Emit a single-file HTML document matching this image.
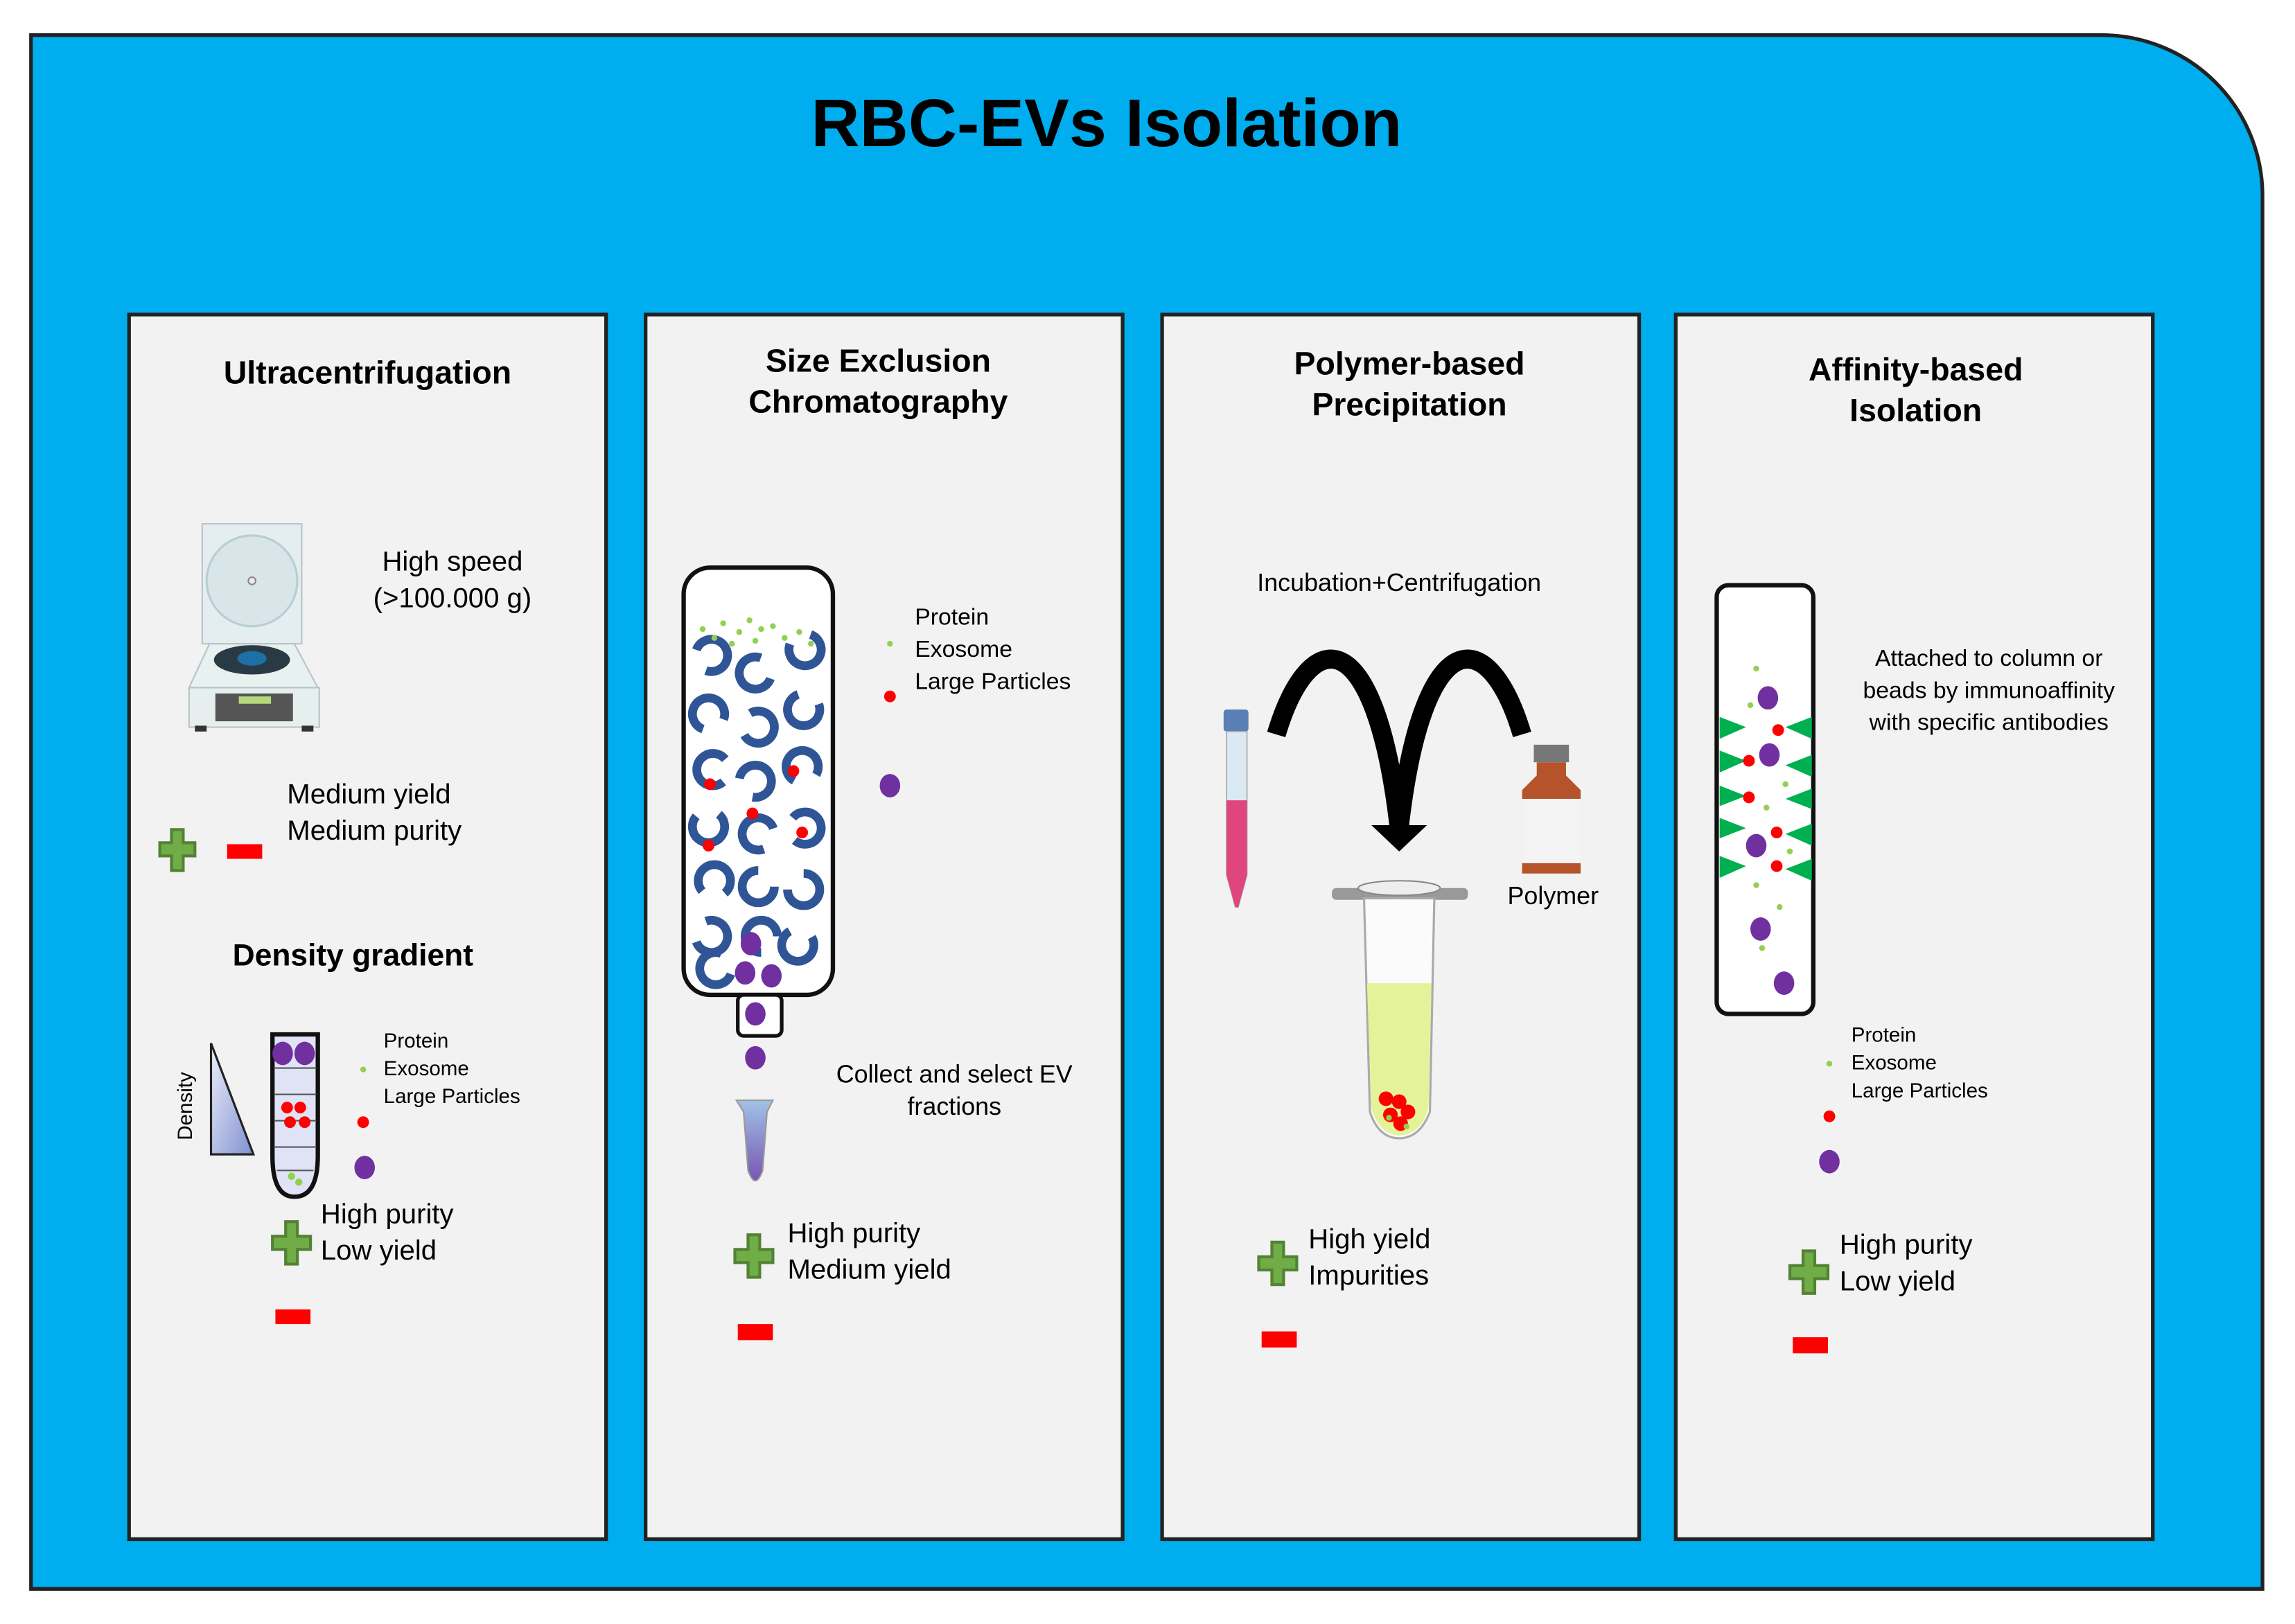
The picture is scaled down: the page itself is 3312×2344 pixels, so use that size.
<!DOCTYPE html>
<html><head><meta charset="utf-8"><style>html,body{margin:0;padding:0;background:#fff}svg{display:block}text{font-family:"Liberation Sans",Arial,sans-serif}</style></head>
<body>
<svg width="3312" height="2344" viewBox="0 0 1568 1110" xmlns="http://www.w3.org/2000/svg">
<defs>
<linearGradient id="dg" x1="0" y1="0" x2="1" y2="1"><stop offset="0" stop-color="#eef0fb"/><stop offset="1" stop-color="#7f8fd0"/></linearGradient>
<linearGradient id="tb" x1="0" y1="0" x2="0" y2="1"><stop offset="0" stop-color="#9fc3e8"/><stop offset="1" stop-color="#7a55b0"/></linearGradient>
</defs>
<rect width="1568" height="1110" fill="#fff"/>
<path d="M21 24 H1436 A110 110 0 0 1 1546 134 V1086 H21 Z" fill="#00aeef" stroke="#222" stroke-width="2.5"/>
<text x="756" y="100" font-size="46" font-weight="bold" text-anchor="middle">RBC-EVs Isolation</text>
<g fill="#f2f2f2" stroke="#222" stroke-width="2.5">
<rect x="88" y="215" width="326" height="837"/>
<rect x="441" y="215" width="326" height="837"/>
<rect x="794" y="215" width="326" height="837"/>
<rect x="1145" y="215" width="326" height="837"/>
</g>
<g font-weight="bold" font-size="22" text-anchor="middle">
<text x="251" y="262">Ultracentrifugation</text>
<text x="600" y="254">Size Exclusion</text><text x="600" y="282">Chromatography</text>
<text x="963" y="256">Polymer-based</text><text x="963" y="284">Precipitation</text>
<text x="1309" y="260">Affinity-based</text><text x="1309" y="288">Isolation</text>
<text x="241" y="660" font-size="21">Density gradient</text>
</g>
<!-- Panel 1 -->
<g>
<rect x="138" y="358" width="68" height="82" fill="#e4eef0" stroke="#b8c4c6"/>
<circle cx="172" cy="397" r="31" fill="#d8e6ea" stroke="#b9cdd4" stroke-width="1.5"/>
<circle cx="172" cy="397" r="2.5" fill="#eee" stroke="#888"/>
<path d="M143 440 H201 L217 470 H129 Z" fill="#e8f0f0" stroke="#b8c4c6"/>
<ellipse cx="172" cy="451" rx="26" ry="10" fill="#2a3a44"/>
<ellipse cx="172" cy="450" rx="10" ry="5" fill="#1d6fa8"/>
<rect x="129" y="470" width="89" height="27" fill="#e6eeee" stroke="#b8c4c6"/>
<rect x="147" y="474" width="53" height="19" fill="#555"/>
<rect x="163" y="476" width="22" height="5" fill="#b6d87c"/>
<rect x="133" y="496" width="8" height="4" fill="#333"/><rect x="206" y="496" width="8" height="4" fill="#333"/>
</g>
<g font-size="19" text-anchor="middle"><text x="309" y="390">High speed</text><text x="309" y="415">(&gt;100.000 g)</text></g>
<g font-size="19"><text x="196" y="549">Medium yield</text><text x="196" y="574">Medium purity</text></g>
<path d="M117 567 h8 v9 h8 v9 h-8 v10 h-8 v-10 h-8 v-9 h8 z" fill="#70ad47" stroke="#548235" stroke-width="2"/>
<rect x="155" y="577" width="24" height="10" fill="#f00"/>
<path d="M144 713 V789 H173 Z" fill="url(#dg)" stroke="#222" stroke-width="1.5"/>
<text x="131" y="756" font-size="14" text-anchor="middle" transform="rotate(-90 131 756)">Density</text>
<path d="M186 707 H217 V790 Q217 818 201 818 Q186 818 186 790 Z" fill="#dfe3f5" stroke="#111" stroke-width="3"/>
<g stroke="#555" stroke-width="1"><line x1="187" y1="730" x2="216" y2="730"/><line x1="187" y1="748" x2="216" y2="748"/><line x1="187" y1="766" x2="216" y2="766"/><line x1="187" y1="784" x2="216" y2="784"/><line x1="189" y1="800" x2="214" y2="800"/></g>
<g fill="#7030a0"><ellipse cx="193" cy="720" rx="7" ry="8"/><ellipse cx="208" cy="720" rx="7" ry="8"/></g>
<g fill="#f00"><circle cx="196" cy="757" r="4"/><circle cx="205" cy="757" r="4"/><circle cx="198" cy="767" r="4"/><circle cx="208" cy="767" r="4"/></g>
<g fill="#92d050"><circle cx="199" cy="804" r="2.5"/><circle cx="204" cy="808" r="2.5"/></g>
<g font-size="14"><text x="262" y="716">Protein</text><text x="262" y="735">Exosome</text><text x="262" y="754">Large Particles</text></g>
<circle cx="248" cy="731" r="2" fill="#92d050"/><circle cx="248" cy="767" r="4" fill="#f00"/><ellipse cx="249" cy="798" rx="7" ry="8" fill="#7030a0"/>
<g font-size="19"><text x="219" y="836">High purity</text><text x="219" y="861">Low yield</text></g>
<path d="M195 835 h8 v10 h9 v9 h-9 v10 h-8 v-10 h-9 v-9 h9 z" fill="#70ad47" stroke="#548235" stroke-width="2"/>
<rect x="188" y="895" width="24" height="10" fill="#f00"/>
<!-- Panel 2 -->
<rect x="467" y="388" width="102" height="292" rx="18" fill="#fff" stroke="#111" stroke-width="3"/>
<rect x="504" y="680" width="30" height="28" rx="4" fill="#fff" stroke="#111" stroke-width="2.5"/>
<g fill="none" stroke="#2f5597" stroke-width="6">
<path d="M-11 0 A11 11 0 1 1 0 11" transform="translate(486,448) rotate(20)"/>
<path d="M-11 0 A11 11 0 1 1 0 11" transform="translate(516,460) rotate(200)"/>
<path d="M-11 0 A11 11 0 1 1 0 11" transform="translate(550,444) rotate(110)"/>
<path d="M-11 0 A11 11 0 1 1 0 11" transform="translate(484,488) rotate(290)"/>
<path d="M-11 0 A11 11 0 1 1 0 11" transform="translate(518,497) rotate(60)"/>
<path d="M-11 0 A11 11 0 1 1 0 11" transform="translate(549,485) rotate(160)"/>
<path d="M-11 0 A11 11 0 1 1 0 11" transform="translate(487,526) rotate(230)"/>
<path d="M-11 0 A11 11 0 1 1 0 11" transform="translate(516,534) rotate(10)"/>
<path d="M-11 0 A11 11 0 1 1 0 11" transform="translate(548,524) rotate(300)"/>
<path d="M-11 0 A11 11 0 1 1 0 11" transform="translate(484,565) rotate(130)"/>
<path d="M-11 0 A11 11 0 1 1 0 11" transform="translate(518,570) rotate(250)"/>
<path d="M-11 0 A11 11 0 1 1 0 11" transform="translate(550,566) rotate(40)"/>
<path d="M-11 0 A11 11 0 1 1 0 11" transform="translate(488,602) rotate(320)"/>
<path d="M-11 0 A11 11 0 1 1 0 11" transform="translate(518,606) rotate(180)"/>
<path d="M-11 0 A11 11 0 1 1 0 11" transform="translate(549,608) rotate(90)"/>
<path d="M-11 0 A11 11 0 1 1 0 11" transform="translate(486,640) rotate(70)"/>
<path d="M-11 0 A11 11 0 1 1 0 11" transform="translate(520,640) rotate(270)"/>
<path d="M-11 0 A11 11 0 1 1 0 11" transform="translate(545,646) rotate(150)"/>
<path d="M-11 0 A11 11 0 1 1 0 11" transform="translate(489,662) rotate(200)"/>
</g>
<g fill="#92d050"><circle cx="480" cy="430" r="2"/><circle cx="494" cy="426" r="2"/><circle cx="505" cy="432" r="2"/><circle cx="512" cy="424" r="2"/><circle cx="520" cy="430" r="2"/><circle cx="528" cy="428" r="2"/><circle cx="536" cy="436" r="2"/><circle cx="546" cy="432" r="2"/><circle cx="500" cy="440" r="2"/><circle cx="516" cy="438" r="2"/><circle cx="554" cy="440" r="2"/><circle cx="488" cy="436" r="2"/></g>
<g fill="#f00"><circle cx="542" cy="527" r="4"/><circle cx="485" cy="536" r="4"/><circle cx="514" cy="556" r="4"/><circle cx="548" cy="569" r="4"/><circle cx="484" cy="578" r="4"/></g>
<g fill="#7030a0"><ellipse cx="513" cy="645" rx="7" ry="8"/><ellipse cx="509" cy="665" rx="7" ry="8"/><ellipse cx="527" cy="667" rx="7" ry="8"/><ellipse cx="516" cy="693" rx="7" ry="8"/><ellipse cx="516" cy="723" rx="7" ry="8"/></g>
<path d="M503 752 H528 L524 760 L521 800 Q516 814 511 800 L508 760 Z" fill="url(#tb)" stroke="#999" stroke-width="1"/>
<g font-size="16"><text x="625" y="427">Protein</text><text x="625" y="449">Exosome</text><text x="625" y="471">Large Particles</text></g>
<circle cx="608" cy="440" r="2" fill="#92d050"/><circle cx="608" cy="476" r="4" fill="#f00"/><ellipse cx="608" cy="537" rx="7" ry="8" fill="#7030a0"/>
<g font-size="17" text-anchor="middle"><text x="652" y="740">Collect and select EV</text><text x="652" y="762">fractions</text></g>
<g font-size="19"><text x="538" y="849">High purity</text><text x="538" y="874">Medium yield</text></g>
<path d="M511 844 h8 v10 h9 v9 h-9 v10 h-8 v-10 h-9 v-9 h9 z" fill="#70ad47" stroke="#548235" stroke-width="2"/>
<rect x="504" y="905" width="24" height="11" fill="#f00"/>
<!-- Panel 3 -->
<text x="956" y="404" font-size="17" text-anchor="middle">Incubation+Centrifugation</text>
<g fill="none" stroke="#000" stroke-width="13">
<path d="M872 502 C895 425, 940 425, 956 566"/>
<path d="M1040 502 C1017 425, 972 425, 956 566"/>
</g>
<path d="M937 564 L975 564 L956 582 Z" fill="#000"/>
<rect x="836" y="485" width="17" height="15" rx="2" fill="#5a7fb5"/>
<path d="M838 500 H852 V598 L846 620 H844 L838 598 Z" fill="#dbe9f3" stroke="#aaa" stroke-width="0.8"/>
<path d="M838 547 H852 V598 L846 620 H844 L838 598 Z" fill="#e0457e"/>
<rect x="1048" y="509" width="24" height="12" fill="#777"/>
<path d="M1050 521 H1070 V530 L1080 540 V597 H1040 V540 L1050 530 Z" fill="#b5532a"/>
<rect x="1040" y="546" width="40" height="44" fill="#f4f4f4"/>
<text x="1030" y="618" font-size="17">Polymer</text>
<rect x="910" y="607" width="93" height="8" rx="3" fill="#999"/>
<ellipse cx="956" cy="607" rx="28" ry="5" fill="#eee" stroke="#888"/>
<path d="M932 614 H980 L977 760 Q970 778 956 778 Q942 778 936 760 Z" fill="#fbfbfb" stroke="#aaa" stroke-width="1.5"/>
<path d="M934 672 H978 L976 758 Q970 776 956 776 Q943 776 937 758 Z" fill="#e4f39a"/>
<g fill="#f00"><circle cx="947" cy="751" r="5"/><circle cx="956" cy="753" r="5"/><circle cx="962" cy="760" r="5"/><circle cx="950" cy="762" r="5"/><circle cx="957" cy="768" r="5"/></g>
<g fill="#92d050"><circle cx="949" cy="764" r="2"/><circle cx="961" cy="770" r="2"/></g>
<g font-size="19"><text x="894" y="853">High yield</text><text x="894" y="878">Impurities</text></g>
<path d="M869 849 h8 v10 h9 v9 h-9 v10 h-8 v-10 h-9 v-9 h9 z" fill="#70ad47" stroke="#548235" stroke-width="2"/>
<rect x="862" y="910" width="24" height="11" fill="#f00"/>
<!-- Panel 4 -->
<rect x="1173" y="400" width="66" height="293" rx="8" fill="#fff" stroke="#111" stroke-width="3"/>
<g fill="#00b050">
<path d="M1175 490 L1193 497 L1175 505Z"/><path d="M1175 513 L1193 520 L1175 528Z"/><path d="M1175 537 L1193 544 L1175 551Z"/><path d="M1175 559 L1193 566 L1175 573Z"/><path d="M1175 585 L1193 592 L1175 600Z"/>
<path d="M1238 490 L1220 497 L1238 505Z"/><path d="M1238 516 L1220 523 L1238 531Z"/><path d="M1238 539 L1220 546 L1238 553Z"/><path d="M1238 563 L1220 570 L1238 578Z"/><path d="M1238 587 L1220 594 L1238 602Z"/>
</g>
<g fill="#7030a0"><ellipse cx="1208" cy="477" rx="7" ry="8"/><ellipse cx="1209" cy="516" rx="7" ry="8"/><ellipse cx="1200" cy="578" rx="7" ry="8"/><ellipse cx="1203" cy="635" rx="7" ry="8"/><ellipse cx="1219" cy="672" rx="7" ry="8"/></g>
<g fill="#f00"><circle cx="1215" cy="499" r="4"/><circle cx="1195" cy="520" r="4"/><circle cx="1195" cy="545" r="4"/><circle cx="1214" cy="569" r="4"/><circle cx="1214" cy="592" r="4"/></g>
<g fill="#92d050"><circle cx="1200" cy="457" r="2"/><circle cx="1196" cy="482" r="2"/><circle cx="1220" cy="536" r="2"/><circle cx="1207" cy="552" r="2"/><circle cx="1223" cy="582" r="2"/><circle cx="1200" cy="605" r="2"/><circle cx="1216" cy="620" r="2"/><circle cx="1204" cy="648" r="2"/></g>
<g font-size="16" text-anchor="middle"><text x="1359" y="455">Attached to column or</text><text x="1359" y="477">beads by immunoaffinity</text><text x="1359" y="499">with specific antibodies</text></g>
<g font-size="14"><text x="1265" y="712">Protein</text><text x="1265" y="731">Exosome</text><text x="1265" y="750">Large Particles</text></g>
<circle cx="1250" cy="727" r="2" fill="#92d050"/><circle cx="1250" cy="763" r="4" fill="#f00"/><ellipse cx="1250" cy="794" rx="7" ry="8" fill="#7030a0"/>
<g font-size="19"><text x="1257" y="857">High purity</text><text x="1257" y="882">Low yield</text></g>
<path d="M1232 855 h8 v10 h9 v9 h-9 v10 h-8 v-10 h-9 v-9 h9 z" fill="#70ad47" stroke="#548235" stroke-width="2"/>
<rect x="1225" y="914" width="24" height="11" fill="#f00"/>
</svg>
</body></html>
